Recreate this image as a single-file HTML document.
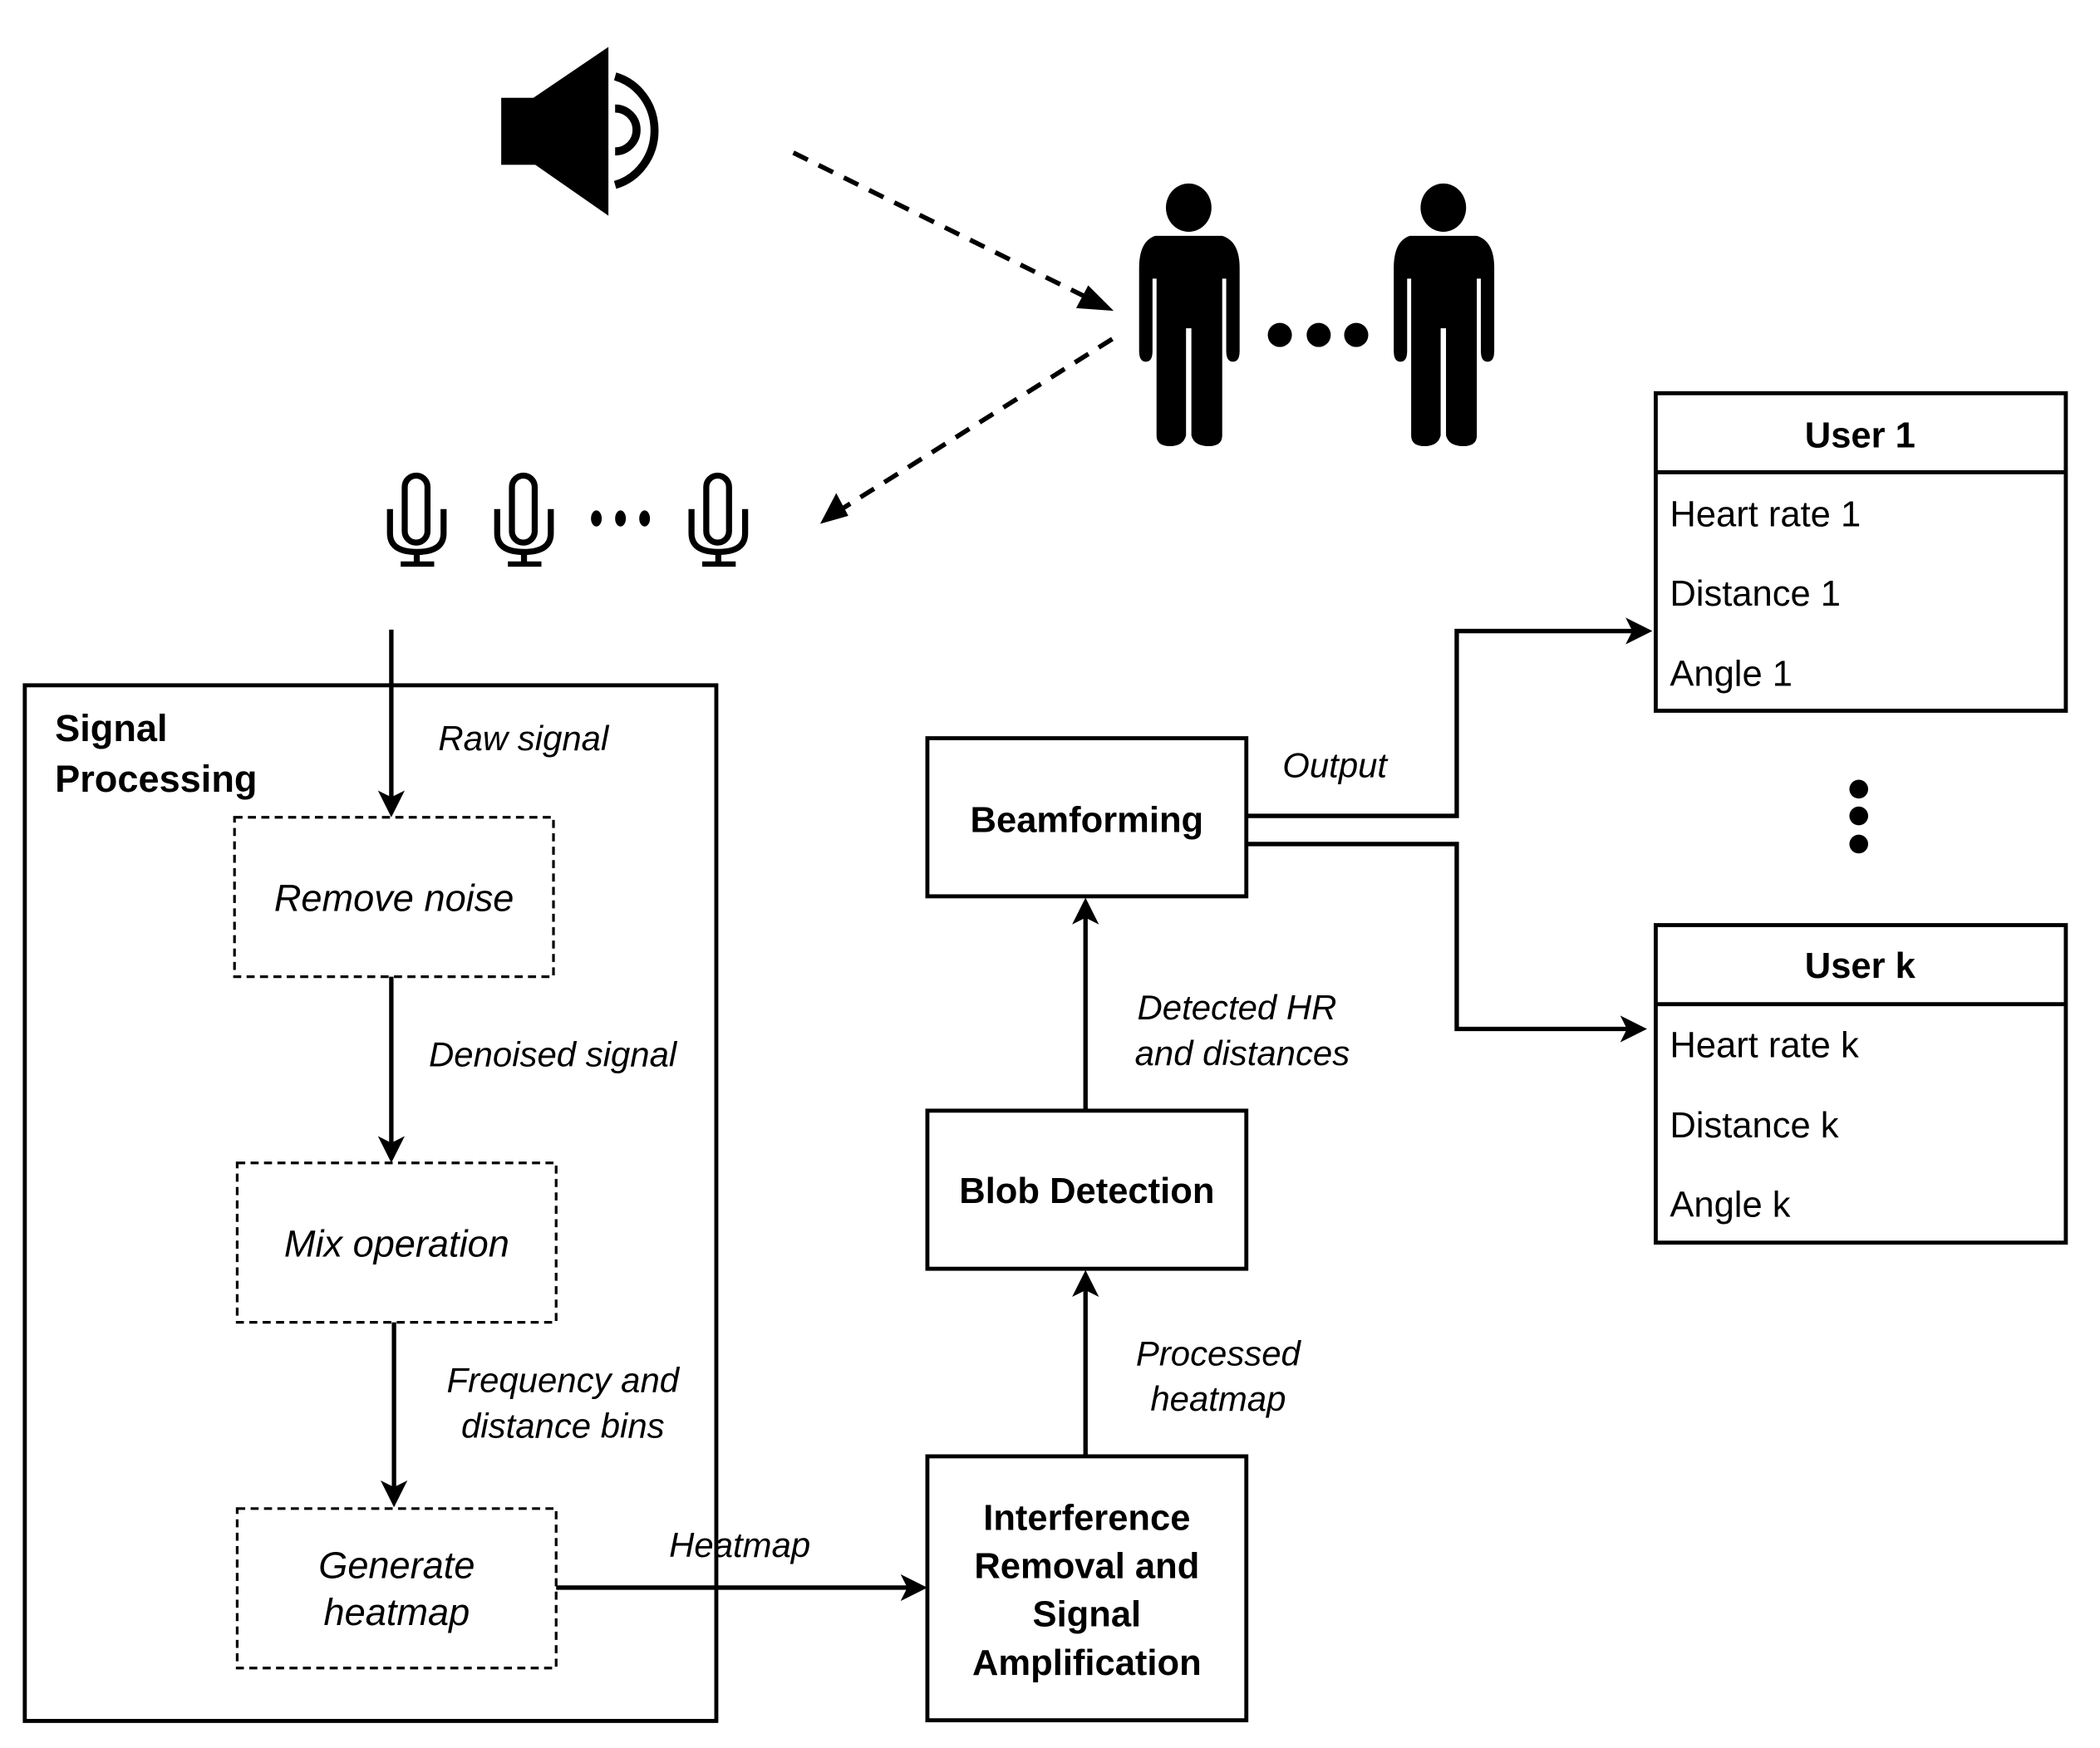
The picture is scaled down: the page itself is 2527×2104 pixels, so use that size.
<!DOCTYPE html>
<html><head><meta charset="utf-8"><style>
html,body{margin:0;padding:0;background:#fff;}
svg{display:block;}
text{font-family:"Liberation Sans",sans-serif;fill:#000;}
.it{font-style:italic;font-size:26px;}
.bx{font-style:italic;font-size:28px;}
.b{font-weight:bold;font-size:27px;}
.r{font-size:27px;}
</style></head><body>
<svg width="2527" height="2104" viewBox="0 0 1567 1304.7" preserveAspectRatio="none" xmlns="http://www.w3.org/2000/svg">
<!-- speaker -->
<rect x="374" y="73" width="26" height="50" fill="#000"/>
<polygon points="398,73 454,35 454,161 398,122" fill="#000"/>
<path d="M459,81 A16,16 0 0 1 459,113" fill="none" stroke="#000" stroke-width="6"/>
<path d="M459,57 A40,42 0 0 1 459,138" fill="none" stroke="#000" stroke-width="6"/>
<!-- dashed arrows -->
<line x1="592" y1="114" x2="815" y2="224" stroke="#000" stroke-width="3.5" stroke-dasharray="12,9"/>
<polygon points="831,232 803,230 812,213" fill="#000"/>
<line x1="830" y1="253" x2="628" y2="380" stroke="#000" stroke-width="3.5" stroke-dasharray="12,9"/>
<polygon points="612,391 624,368 633,385" fill="#000"/>
<!-- people -->
<g id="p1">
<ellipse cx="887" cy="155" rx="17" ry="18" fill="#000"/>
<path d="M862,176 H912 Q925,180 925,200 V262 Q925,270 920,270 Q915,270 915,262 V208 H912 V325 Q912,333 902,333 Q891,333 889,325 V245 H885 V325 Q883,333 873,333 Q863,333 863,325 V208 H860 V262 Q860,270 855,270 Q850,270 850,262 V200 Q850,180 862,176 Z" fill="#000"/>
</g>
<use href="#p1" x="190"/>
<circle cx="955" cy="250" r="9" fill="#000"/>
<circle cx="984" cy="250" r="9" fill="#000"/>
<circle cx="1012" cy="250" r="9" fill="#000"/>
<!-- mics -->
<g id="m1" fill="none" stroke="#000" stroke-width="4.5">
<rect x="302" y="355" width="17" height="50" rx="8.5"/>
<path d="M291,380 V398 Q291,412 311,412 Q331,412 331,398 V380"/>
<line x1="311" y1="412" x2="311" y2="420"/>
<line x1="299" y1="421" x2="324" y2="421" stroke-width="4"/>
</g>
<use href="#m1" x="80"/>
<use href="#m1" x="225"/>
<ellipse cx="445" cy="387" rx="4" ry="6" fill="#000"/>
<ellipse cx="463" cy="387" rx="4" ry="6" fill="#000"/>
<ellipse cx="481" cy="387" rx="4" ry="6" fill="#000"/>
<!-- signal processing -->
<rect x="18.5" y="511.5" width="516" height="773" fill="none" stroke="#000" stroke-width="3"/>
<text x="41" y="553" class="b" style="font-size:28px">Signal</text>
<text x="41" y="591" class="b" style="font-size:28px">Processing</text>
<g stroke="#000" stroke-width="3.3" fill="none">
<line x1="292" y1="470" x2="292" y2="595"/>
<line x1="292" y1="729" x2="292" y2="853"/>
<line x1="294" y1="987" x2="294" y2="1110"/>
<line x1="415" y1="1185" x2="678" y2="1185"/>
<line x1="810" y1="1087" x2="810" y2="962"/>
<line x1="810" y1="829" x2="810" y2="684"/>
<path d="M930,609 H1087 V471 H1218"/>
<path d="M930,630 H1087 V768 H1214"/>
</g>
<g fill="#000">
<polygon points="292,610 282,590 292,595 302,590"/>
<polygon points="292,868 282,848 292,853 302,848"/>
<polygon points="294,1125 284,1105 294,1110 304,1105"/>
<polygon points="692,1185 672,1175 677,1185 672,1195"/>
<polygon points="810,948 800,968 810,963 820,968"/>
<polygon points="810,670 800,690 810,685 820,690"/>
<polygon points="1233,471 1213,461 1218,471 1213,481"/>
<polygon points="1229,768 1209,758 1214,768 1209,778"/>
</g>
<g fill="none" stroke="#000" stroke-width="2" stroke-dasharray="6,4">
<rect x="175" y="610" width="238" height="119"/>
<rect x="177" y="868" width="238" height="119"/>
<rect x="177" y="1126" width="238" height="119"/>
</g>
<text x="294" y="680" class="bx" text-anchor="middle">Remove noise</text>
<text x="296" y="938" class="bx" text-anchor="middle">Mix operation</text>
<text x="296" y="1178" class="bx" text-anchor="middle">Generate</text>
<text x="296" y="1213" class="bx" text-anchor="middle">heatmap</text>
<text x="327" y="560" class="it">Raw signal</text>
<text x="320" y="796" class="it">Denoised signal</text>
<text x="420" y="1039" class="it" text-anchor="middle">Frequency and</text>
<text x="420" y="1073" class="it" text-anchor="middle">distance bins</text>
<text x="552" y="1162" class="it" text-anchor="middle">Heatmap</text>
<text x="909" y="1019" class="it" text-anchor="middle">Processed</text>
<text x="909" y="1053" class="it" text-anchor="middle">heatmap</text>
<text x="923" y="761" class="it" text-anchor="middle">Detected HR</text>
<text x="927" y="795" class="it" text-anchor="middle">and distances</text>
<text x="996" y="580" class="it" text-anchor="middle">Output</text>
<!-- right boxes -->
<g fill="none" stroke="#000" stroke-width="3">
<rect x="692" y="1087" width="238" height="197"/>
<rect x="692" y="829" width="238" height="118"/>
<rect x="692" y="551" width="238" height="118"/>
<rect x="1235.5" y="293.5" width="306" height="237"/>
<line x1="1235" y1="352.5" x2="1542" y2="352.5"/>
<rect x="1235.5" y="690.5" width="306" height="237"/>
<line x1="1235" y1="749.5" x2="1542" y2="749.5"/>
</g>
<text x="811" y="1142" class="b" text-anchor="middle">Interference</text>
<text x="811" y="1178" class="b" text-anchor="middle">Removal and</text>
<text x="811" y="1214" class="b" text-anchor="middle">Signal</text>
<text x="811" y="1250" class="b" text-anchor="middle">Amplification</text>
<text x="811" y="898" class="b" text-anchor="middle">Blob Detection</text>
<text x="811" y="621" class="b" text-anchor="middle">Beamforming</text>
<text x="1388" y="334" class="b" text-anchor="middle">User 1</text>
<text x="1246" y="393" class="r">Heart rate 1</text>
<text x="1246" y="452" class="r">Distance 1</text>
<text x="1246" y="512" class="r">Angle 1</text>
<text x="1388" y="730" class="b" text-anchor="middle">User k</text>
<text x="1246" y="789" class="r">Heart rate k</text>
<text x="1246" y="849" class="r">Distance k</text>
<text x="1246" y="908" class="r">Angle k</text>
<ellipse cx="1387" cy="589" rx="7" ry="7" fill="#000"/>
<ellipse cx="1387" cy="609" rx="7" ry="7" fill="#000"/>
<ellipse cx="1387" cy="630" rx="7" ry="7" fill="#000"/>
</svg>
</body></html>
